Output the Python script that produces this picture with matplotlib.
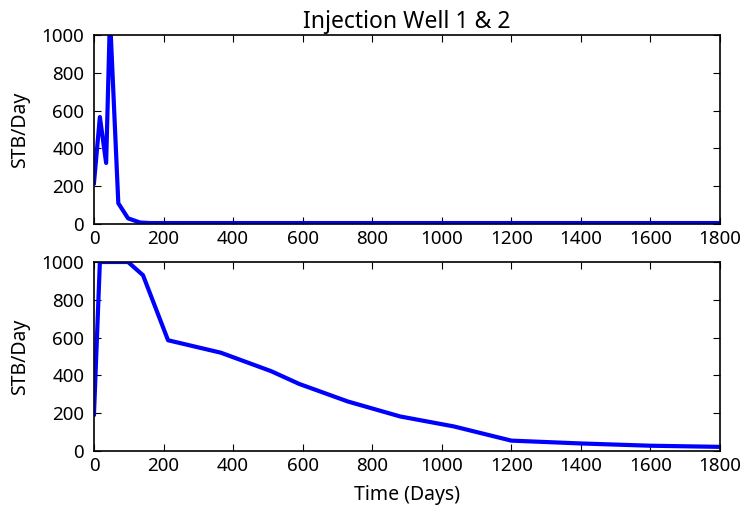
import matplotlib
matplotlib.use("Agg")
import matplotlib.pyplot as plt

# ── Data ──────────────────────────────────────────────────────────────
well1_days = [0, 17, 35, 46, 70, 98, 132, 160, 200, 400, 800, 1200, 1600, 1800]
well1_rate = [217, 566, 323, 1100, 110, 30, 8, 5, 5, 5, 5, 5, 5, 5]

well2_days = [0, 17, 98, 141, 213, 365, 510, 590, 730, 880, 1035, 1200, 1400, 1600, 1800]
well2_rate = [194, 1000, 1000, 930, 586, 520, 422, 355, 262, 183, 130, 55, 40, 28, 22]

title = "Injection Well 1 & 2"
ylabel = "STB/Day"
xlabel = "Time (Days)"

plt.rcParams["font.family"] = ["Noto Sans", "DejaVu Sans"]

fig = plt.figure(figsize=(7.44, 5.12), dpi=100)
ax1 = fig.add_axes([0.1263, 0.5625, 0.8414, 0.3691])
ax2 = fig.add_axes([0.1263, 0.1191, 0.8414, 0.3692])

for ax, x, y in [(ax1, well1_days, well1_rate), (ax2, well2_days, well2_rate)]:
    ax.plot(x, y, color="blue", linewidth=3)
    ax.set_xlim(0, 1800)
    ax.set_ylim(0, 1000)
    ax.set_xticks(range(0, 1801, 200))
    ax.set_yticks(range(0, 1001, 200))
    ax.set_ylabel(ylabel, fontsize=14, labelpad=8)
    ax.tick_params(direction="in", top=True, right=True, length=5, width=0.8,
                   labelsize=13.5)
    ax.tick_params(axis="x", pad=4.5)
    ax.tick_params(axis="y", pad=7)
    for s in ax.spines.values():
        s.set_linewidth(1.2)

ax1.set_title(title, fontsize=16.5, pad=5)
ax2.set_xlabel(xlabel, fontsize=14, labelpad=7)

fig.savefig("out.png", dpi=100)
